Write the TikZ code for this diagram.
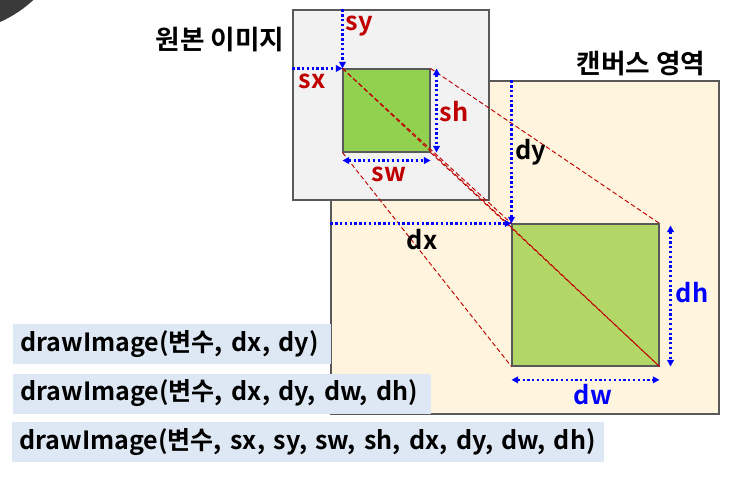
\documentclass[tikz,border=0pt]{standalone}
\usepackage{fontspec}
\setmainfont{Noto Sans CJK KR}[BoldFont={Noto Sans CJK KR Bold}]
\usetikzlibrary{arrows.meta,fit}

\definecolor{slidegray}{HTML}{3A3A3A}
\definecolor{imggray}{HTML}{F2F2F2}
\definecolor{canvasfill}{HTML}{FFF5DF}
\definecolor{cropgreen}{HTML}{92D050}
\definecolor{targetgreen}{HTML}{B3D766}
\definecolor{codeblue}{HTML}{DDE8F4}
\definecolor{darkred}{HTML}{C00000}
\definecolor{boxline}{HTML}{595959}

\begin{document}
\begin{tikzpicture}[
                        x=0.75pt, y=-0.75pt,
                        font=\bfseries,
                        area/.style={
                            rectangle,
                            draw=boxline,
                            line width=0.8pt,
                            inner sep=0pt
                        },
                        codebox/.style={
                            rectangle,
                            fill=codeblue,
                            anchor=west,
                            align=left,
                            inner xsep=5.25pt,
                            minimum height=30pt,
                            font=\bfseries\fontsize{18.8}{22}\selectfont
                        },
                        title/.style={
                            font=\bfseries\fontsize{20}{23}\selectfont
                        },
                        measure/.style={
                            font=\bfseries\fontsize{19}{22}\selectfont
                        },
                        line/.style={
                            draw=darkred,
                            line width=0.7pt,
                            dash pattern=on 3.5pt off 2pt
                        },
                        gauge/.style={
                            draw=blue,
                            line width=1.7pt,
                            dash pattern=on 1.7pt off 1.9pt,
                            arrows={-Triangle[length=5pt,width=5pt]}
                        },
                        span/.style={
                            gauge,
                            arrows={Triangle[length=5pt,width=5pt]-Triangle[length=5pt,width=5pt]}
                        }]

                        \useasboundingbox (0,0) rectangle (744,485);

                        % slide corner
                        \begin{scope}
                            \clip (0,0) rectangle (744,485);
                            \fill [slidegray] (-50,-90) circle [radius=92pt];
                        \end{scope}

                        % areas
                        \node (canvas) [area, fill=canvasfill, fit={(331,81) (719,414)}] {};
                        \node (code_short) [codebox, text width=228pt] at (13,344) {\mbox{drawImage(변수, dx, dy)}};
                        \node (code_sized) [codebox, text width=303pt] at (13,393.5) {\mbox{drawImage(변수, dx, dy, dw, dh)}};
                        \node (code_full) [codebox, text width=433.5pt] at (12,442) {\mbox{drawImage(변수, sx, sy, sw, sh, dx, dy, dw, dh)}};
                        \node (source) [area, fill=imggray, fit={(293,10) (489,200)}] {};
                        \node (crop) [area, fill=cropgreen, fit={(343,69) (430,152)}] {};
                        \node (target) [area, fill=targetgreen, fit={(512,224) (659,366)}] {};

                        \node (source_title) [title, anchor=east] at (289,40) {원본 이미지};
                        \node (canvas_title) [title] at (641,64) {캔버스 영역};

                        % projection
                        \draw [line] (crop.north west) -- (target.north west);
                        \draw [line] (crop.north east) -- (target.north east);
                        \draw [line] (crop.south west) -- (target.south west);
                        \draw [line] (crop.south east) -- (target.south east);
                        \draw [line] (crop.north west) -- (target.south east);

                        % source measures
                        \draw [gauge] (source.north -| crop.west) -- (crop.north west);
                        \draw [gauge] (source.west |- crop.north) -- (crop.north west);
                        \draw [span] ([xshift=4.5pt]crop.north east) -- ([xshift=4.5pt]crop.south east);
                        \draw [span] ([yshift=-6pt]crop.south west) -- ([yshift=-6pt]crop.south east);

                        \node (sy) [measure, text=darkred] at (359,26) {sy};
                        \node (sx) [measure, text=darkred] at (312,81) {sx};
                        \node (sh) [measure, text=darkred] at (454,112) {sh};
                        \node (sw) [measure, text=darkred] at (389,174) {sw};

                        % canvas measures
                        \draw [gauge] (canvas.north -| target.west) -- (target.north west);
                        \draw [gauge] (canvas.west |- target.north) -- (target.north west);
                        \draw [span] ([xshift=8.25pt,yshift=-1.5pt]target.north east) -- ([xshift=8.25pt]target.south east);
                        \draw [span] ([yshift=-10pt]target.south west) -- ([yshift=-10pt]target.south east);

                        \node (dy) [measure] at (531,152) {dy};
                        \node (dx) [measure] at (422,240) {dx};
                        \node (dh) [measure, text=blue] at (692,293) {dh};
                        \node (dw) [measure, text=blue] at (593,395) {dw};

                    \end{tikzpicture}
\end{document}
